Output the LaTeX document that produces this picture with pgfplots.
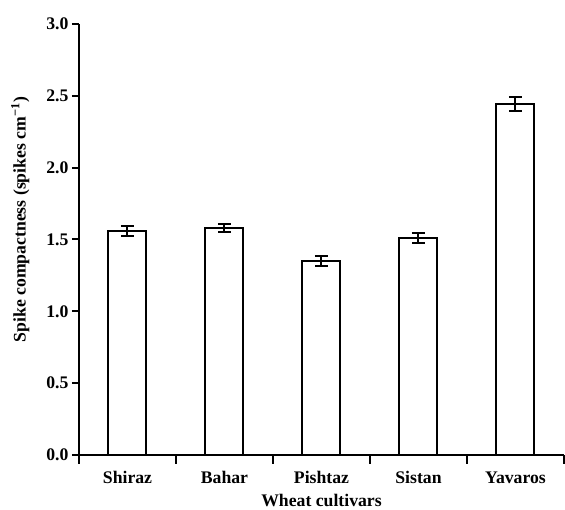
\documentclass[border=0pt]{standalone}
\usepackage{fontspec}
\setmainfont{Liberation Serif}
\usepackage{pgfplots}
\pgfplotsset{compat=1.18}
\begin{document}
\begin{tikzpicture}[x=1pt,y=1pt]
\useasboundingbox (-79,-55) rectangle (486,455);
\begin{axis}[
  at={(0,0)}, anchor=south west,
  scale only axis, width=485pt, height=431pt,
  xmin=-0.5, xmax=4.5, ymin=0, ymax=3.0,
  axis x line*=bottom, axis y line*=left,
  axis line style={line width=2.2pt},
  every tick/.style={black, line width=2pt},
  tick align=outside,
  xtick={0,1,2,3,4},
  xticklabels={Shiraz,Bahar,Pishtaz,Sistan,Yavaros},
  major x tick style={draw=none},
  minor xtick={-0.5,0.5,1.5,2.5,3.5,4.5},
  major tick length=7pt, minor tick length=9pt,
  ytick={0,0.5,1.0,1.5,2.0,2.5,3.0},
  yticklabel style={/pgf/number format/.cd, fixed, fixed zerofill, precision=1, assume math mode=true},
  /pgf/number format/assume math mode=true,
  tick label style={font=\fontsize{17.7}{20}\selectfont\bfseries},
  xticklabel style={yshift=-6pt},
  label style={font=\fontsize{17.7}{20}\selectfont\bfseries},
  xlabel={Wheat cultivars},
  xlabel style={yshift=-3pt},
  ylabel={Spike compactness (spikes cm\textsuperscript{−1})},
  ylabel style={at={(ticklabel cs:0.546)}, yshift=10pt},
  clip=false,
]
\addplot[ybar, bar width=38pt, draw=black, fill=white, line width=2pt,
  error bars/.cd, y dir=both, y explicit,
  error bar style={line width=2pt},
  error mark options={rotate=90, mark size=6.5pt, line width=2pt}]
  coordinates {
  (0,1.56) +- (0,0.035)
  (1,1.58) +- (0,0.03)
  (2,1.35) +- (0,0.035)
  (3,1.508) +- (0,0.035)
  (4,2.443) +- (0,0.05)
  };
\end{axis}
\end{tikzpicture}
\end{document}
